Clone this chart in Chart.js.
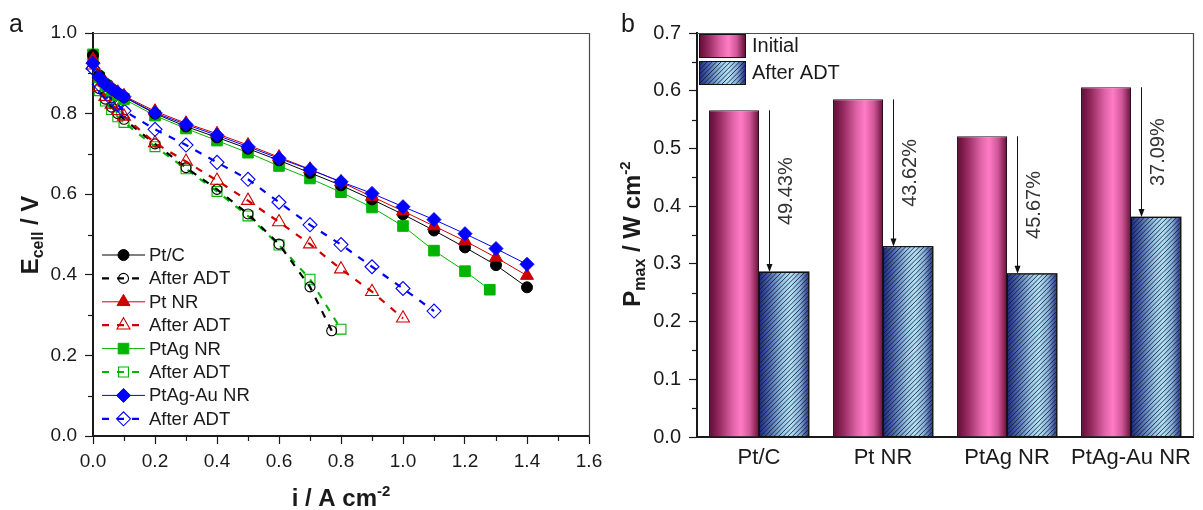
<!DOCTYPE html>
<html>
<head>
<meta charset="utf-8">
<script src="https://cdn.jsdelivr.net/npm/chart.js@4.4.1/dist/chart.umd.min.js"></script>
<style>
  html, body { margin: 0; padding: 0; background: #fff; }
  #wrap { position: relative; width: 1203px; height: 510px; overflow: hidden; }
  canvas { position: absolute; top: 0; }
  #cvA { left: 0; }
  #cvB { left: 600px; }
</style>
</head>
<body>
<div id="wrap">
  <canvas id="cvA" width="620" height="510"></canvas>
  <canvas id="cvB" width="603" height="510"></canvas>
</div>
<script>
// ---------- Panel a: polarization curves (E_cell vs current density) ----------
const currentFull = [0, 0.02, 0.04, 0.06, 0.08, 0.1, 0.2, 0.3, 0.4, 0.5, 0.6, 0.7, 0.8, 0.9, 1.0, 1.1, 1.2, 1.3, 1.4];
const ecellPtC = [0.945, 0.895, 0.875, 0.862, 0.851, 0.841, 0.800, 0.768, 0.741, 0.713, 0.684, 0.653, 0.622, 0.587, 0.550, 0.510, 0.468, 0.424, 0.369];
const ecellPtNR = [0.935, 0.893, 0.876, 0.864, 0.853, 0.844, 0.806, 0.776, 0.750, 0.722, 0.692, 0.662, 0.630, 0.594, 0.558, 0.521, 0.484, 0.443, 0.398];
const ecellPtAgAuNR = [0.925, 0.890, 0.872, 0.861, 0.851, 0.842, 0.802, 0.773, 0.746, 0.718, 0.689, 0.661, 0.631, 0.602, 0.569, 0.537, 0.502, 0.465, 0.426];
const currentPtAgNR = [0, 0.02, 0.04, 0.06, 0.08, 0.1, 0.2, 0.3, 0.4, 0.5, 0.6, 0.7, 0.8, 0.9, 1.0, 1.1, 1.2, 1.28];
const ecellPtAgNR = [0.947, 0.890, 0.870, 0.857, 0.846, 0.836, 0.795, 0.763, 0.733, 0.703, 0.670, 0.639, 0.605, 0.567, 0.521, 0.460, 0.409, 0.363];

const currentPtCAdt = [0, 0.02, 0.04, 0.06, 0.08, 0.1, 0.2, 0.3, 0.4, 0.5, 0.6, 0.7, 0.77];
const ecellPtCAdt = [0.925, 0.862, 0.836, 0.816, 0.800, 0.786, 0.725, 0.666, 0.612, 0.551, 0.476, 0.370, 0.261];
const currentPtNRAdt = [0, 0.02, 0.04, 0.06, 0.08, 0.1, 0.2, 0.3, 0.4, 0.5, 0.6, 0.7, 0.8, 0.9, 1.0];
const ecellPtNRAdt = [0.920, 0.866, 0.842, 0.823, 0.807, 0.793, 0.727, 0.681, 0.634, 0.584, 0.531, 0.476, 0.414, 0.358, 0.292];
const currentPtAgNRAdt = [0, 0.02, 0.04, 0.06, 0.08, 0.1, 0.2, 0.3, 0.4, 0.5, 0.6, 0.7, 0.8];
const ecellPtAgNRAdt = [0.930, 0.857, 0.831, 0.810, 0.792, 0.778, 0.718, 0.663, 0.607, 0.546, 0.474, 0.389, 0.265];
const currentPtAgAuNRAdt = [0, 0.02, 0.04, 0.06, 0.08, 0.1, 0.2, 0.3, 0.4, 0.5, 0.6, 0.7, 0.8, 0.9, 1.0, 1.1];
const ecellPtAgAuNRAdt = [0.912, 0.872, 0.852, 0.836, 0.822, 0.807, 0.761, 0.722, 0.679, 0.637, 0.580, 0.524, 0.475, 0.420, 0.366, 0.310];

const xTicksA = [0, 0.2, 0.4, 0.6, 0.8, 1.0, 1.2, 1.4, 1.6];
const yTicksA = [0, 0.2, 0.4, 0.6, 0.8, 1.0];
const xMinorA = [0.1, 0.3, 0.5, 0.7, 0.9, 1.1, 1.3, 1.5];
const yMinorA = [0.1, 0.3, 0.5, 0.7, 0.9];

// ---------- Panel b: maximum power density ----------
const catalysts = ['Pt/C', 'Pt NR', 'PtAg NR', 'PtAg-Au NR'];
const pmaxInitial = [0.566, 0.585, 0.521, 0.606];
const pmaxAfterADT = [0.286, 0.330, 0.283, 0.381];
const lossLabels = ['49.43%', '43.62%', '45.67%', '37.09%'];
const yTicksB = [0, 0.1, 0.2, 0.3, 0.4, 0.5, 0.6, 0.7];
const yMinorB = [0.05, 0.15, 0.25, 0.35, 0.45, 0.55, 0.65];

const FONT = '"Liberation Sans", Arial, sans-serif';
const INK = '#1a1a1a';
const CAT_PCT = 0.806;

const BLACK = '#000000', RED = '#cc0000', GREEN = '#00b400', BLUE = '#0000ff';

function series(label, xs, ys, color, style, radius, open, order) {
  return {
    label,
    data: xs.map((x, i) => ({ x, y: ys[i] })),
    showLine: true,
    borderColor: color,
    backgroundColor: open ? 'rgba(255,255,255,0)' : color,
    borderWidth: open ? 2.2 : 1,
    borderDash: open ? [7, 8] : [],
    pointStyle: style,
    pointRadius: radius,
    pointHoverRadius: radius,
    pointBorderColor: color,
    pointBackgroundColor: open ? 'rgba(255,255,255,0)' : color,
    pointBorderWidth: open ? 1.1 : 1,
    tension: 0,
    clip: false,
    order
  };
}

const dsA = [
  series('Pt/C', currentFull, ecellPtC, BLACK, 'circle', 5.5, false, 2),
  series('After ADT', currentPtCAdt, ecellPtCAdt, BLACK, 'circle', 5, true, 6),
  series('Pt NR', currentFull, ecellPtNR, RED, 'triangle', 7.5, false, 1),
  series('After ADT', currentPtNRAdt, ecellPtNRAdt, RED, 'triangle', 7.5, true, 5),
  series('PtAg NR', currentPtAgNR, ecellPtAgNR, GREEN, 'rect', 7.5, false, 3),
  series('After ADT', currentPtAgNRAdt, ecellPtAgNRAdt, GREEN, 'rect', 7, true, 7),
  series('PtAg-Au NR', currentFull, ecellPtAgAuNR, BLUE, 'rectRot', 7, false, 0),
  series('After ADT', currentPtAgAuNRAdt, ecellPtAgAuNRAdt, BLUE, 'rectRot', 7, true, 4)
];

// text with sub/superscripts; parts: {t, size, dy}
function richText(ctx, parts, x, y, rotate, bold) {
  ctx.save();
  ctx.translate(x, y);
  if (rotate) ctx.rotate(-Math.PI / 2);
  ctx.fillStyle = INK;
  ctx.textBaseline = 'alphabetic';
  ctx.textAlign = 'left';
  let total = 0;
  parts.forEach(p => { ctx.font = (bold ? 'bold ' : '') + p.size + 'px ' + FONT; total += ctx.measureText(p.t).width; });
  let cx = -total / 2;
  parts.forEach(p => {
    ctx.font = (bold ? 'bold ' : '') + p.size + 'px ' + FONT;
    ctx.fillText(p.t, cx, p.dy || 0);
    cx += ctx.measureText(p.t).width;
  });
  ctx.restore();
}

// frame (top/right edges) and minor tick marks
const framePlugin = {
  id: 'frame',
  afterDraw(chart, args, opts) {
    const { ctx, chartArea: a, scales } = chart;
    ctx.save();
    ctx.strokeStyle = '#4a4a4a';
    ctx.lineWidth = 1.2;
    ctx.beginPath();
    ctx.moveTo(a.left, a.top + 0.5);
    ctx.lineTo(a.right + 0.5, a.top + 0.5);
    ctx.lineTo(a.right + 0.5, a.bottom);
    ctx.stroke();
    ctx.strokeStyle = INK;
    ctx.lineWidth = 1.2;
    (opts.minorY || []).forEach(v => {
      const y = Math.round(scales.y.getPixelForValue(v)) + 0.5;
      ctx.beginPath(); ctx.moveTo(a.left - 5, y); ctx.lineTo(a.left, y); ctx.stroke();
    });
    (opts.minorX || []).forEach(v => {
      const x = Math.round(scales.x.getPixelForValue(v)) + 0.5;
      ctx.beginPath(); ctx.moveTo(x, a.bottom); ctx.lineTo(x, a.bottom + 5); ctx.stroke();
    });
    ctx.restore();
  }
};

const legendAPlugin = {
  id: 'legendA',
  afterDraw(chart) {
    const ctx = chart.ctx;
    const x0 = 102, x1 = 145, xm = 123.5, tx = 149;
    chart.data.datasets.forEach((ds, i) => {
      const y = 255 + i * 23.4;
      ctx.save();
      ctx.strokeStyle = ds.borderColor;
      ctx.lineWidth = ds.borderWidth;
      ctx.setLineDash(ds.borderDash);
      ctx.beginPath(); ctx.moveTo(x0, y); ctx.lineTo(x1, y); ctx.stroke();
      ctx.setLineDash([]);
      ctx.fillStyle = ds.pointBackgroundColor;
      ctx.strokeStyle = ds.pointBorderColor;
      ctx.lineWidth = ds.pointBorderWidth;
      Chart.helpers.drawPoint(ctx, { pointStyle: ds.pointStyle, radius: ds.pointRadius, rotation: 0, borderWidth: ds.pointBorderWidth }, xm, y);
      ctx.fillStyle = INK;
      ctx.font = '18.5px ' + FONT;
      ctx.textBaseline = 'middle';
      ctx.textAlign = 'left';
      ctx.fillText(ds.label, tx, y + 1);
      ctx.restore();
    });
  }
};

const titlesAPlugin = {
  id: 'titlesA',
  afterDraw(chart) {
    const ctx = chart.ctx;
    richText(ctx, [{ t: 'E', size: 24 }, { t: 'cell', size: 16, dy: 5 }, { t: ' / V', size: 24 }], 38, 235, true, true);
    richText(ctx, [{ t: 'i / A cm', size: 24 }, { t: '-2', size: 15, dy: -10 }], 341, 506, false, true);
    ctx.save();
    ctx.fillStyle = INK;
    ctx.font = '25px ' + FONT;
    ctx.textBaseline = 'alphabetic';
    ctx.fillText('a', 9, 32);
    ctx.restore();
  }
};

const tickFont = { family: FONT, size: 19 };

new Chart(document.getElementById('cvA'), {
  type: 'scatter',
  data: { datasets: dsA },
  options: {
    responsive: false,
    animation: false,
    events: [],
    layout: { padding: { left: 0, right: 31, top: 33, bottom: 0 } },
    plugins: { legend: { display: false }, tooltip: { enabled: false }, frame: { minorX: xMinorA, minorY: yMinorA } },
    scales: {
      x: {
        type: 'linear', min: 0, max: 1.6,
        afterFit(s) { s.height = 74; },
        afterBuildTicks(s) { s.ticks = xTicksA.map(v => ({ value: v })); },
        ticks: { callback: v => v.toFixed(1), font: tickFont, color: INK, padding: 6, maxRotation: 0, autoSkip: false },
        grid: { drawOnChartArea: false, drawTicks: true, tickLength: 8, tickColor: INK, tickWidth: 1.2 },
        border: { display: true, color: INK, width: 2 }
      },
      y: {
        type: 'linear', min: 0, max: 1.0,
        afterFit(s) { s.width = 93; },
        afterBuildTicks(s) { s.ticks = yTicksA.map(v => ({ value: v })); },
        ticks: { callback: v => v.toFixed(1), font: tickFont, color: INK, padding: 8 },
        grid: { drawOnChartArea: false, drawTicks: true, tickLength: 8, tickColor: INK, tickWidth: 1.2 },
        border: { display: true, color: INK, width: 2 }
      }
    }
  },
  plugins: [framePlugin, legendAPlugin, titlesAPlugin]
});

// ---------- Panel b ----------
const initialStops = [[0, '#5e0c34'], [0.2, '#94285e'], [0.48, '#e064a8'], [0.64, '#ff7cc4'], [0.82, '#cf5697'], [1, '#651039']];
const afterStops = [[0, '#1c2a80'], [0.2, '#4a66ae'], [0.48, '#98c8e8'], [0.64, '#b2e2f7'], [0.82, '#88b2dc'], [1, '#223088']];

function makeGradient(ctx, left, width, stops) {
  const g = ctx.createLinearGradient(left, 0, left + width, 0);
  stops.forEach(s => g.addColorStop(s[0], s[1]));
  return g;
}

function barFill(c, stops, side) {
  const chart = c.chart;
  const xs = chart.scales && chart.scales.x;
  if (!xs || c.type !== 'data' || !xs.width) return stops[3][1];
  const center = xs.getPixelForValue(c.dataIndex);
  const w = xs.width / catalysts.length * CAT_PCT / 2;
  const left = side < 0 ? center - w : center;
  return makeGradient(chart.ctx, left, w, stops);
}

function hatchRect(ctx, left, top, w, h) {
  ctx.save();
  ctx.beginPath();
  ctx.rect(left, top, w, h);
  ctx.clip();
  ctx.strokeStyle = 'rgba(20,20,35,0.9)';
  ctx.lineWidth = 0.9;
  ctx.beginPath();
  for (let k = left - h; k < left + w + 2; k += 4.6) {
    ctx.moveTo(k, top + h);
    ctx.lineTo(k + h, top);
  }
  ctx.stroke();
  ctx.restore();
}

const barDecorPlugin = {
  id: 'barDecor',
  afterDatasetsDraw(chart) {
    const ctx = chart.ctx;
    const ys = chart.scales.y;
    const metaAfter = chart.getDatasetMeta(1);
    metaAfter.data.forEach(el => {
      const left = el.x - el.width / 2;
      hatchRect(ctx, left, el.y, el.width, el.base - el.y);
      ctx.save();
      ctx.strokeStyle = '#111';
      ctx.lineWidth = 1;
      ctx.strokeRect(left, el.y, el.width, el.base - el.y);
      ctx.restore();
    });
    // arrows showing the loss after ADT
    const xs = chart.scales.x;
    pmaxInitial.forEach((v0, i) => {
      const v1 = pmaxAfterADT[i];
      const ax = Math.round(xs.getPixelForValue(i)) + 10.5;
      const y0 = ys.getPixelForValue(v0);
      const y1 = ys.getPixelForValue(v1);
      ctx.save();
      ctx.strokeStyle = '#111';
      ctx.fillStyle = '#111';
      ctx.lineWidth = 1;
      ctx.beginPath(); ctx.moveTo(ax, y0); ctx.lineTo(ax, y1 - 6); ctx.stroke();
      ctx.beginPath(); ctx.moveTo(ax - 3, y1 - 8); ctx.lineTo(ax + 3, y1 - 8); ctx.lineTo(ax, y1); ctx.closePath(); ctx.fill();
      ctx.translate(ax + 17, (y0 + y1) / 2);
      ctx.rotate(-Math.PI / 2);
      ctx.font = '20px ' + FONT;
      ctx.fillStyle = '#333';
      ctx.textAlign = 'center';
      ctx.textBaseline = 'middle';
      ctx.fillText(lossLabels[i], 0, 0);
      ctx.restore();
    });
  }
};

const legendBPlugin = {
  id: 'legendB',
  afterDraw(chart) {
    const ctx = chart.ctx;
    const bx = 99, bw = 46, bh = 23;
    const rows = [{ y: 34, label: 'Initial', stops: initialStops, hatch: false }, { y: 61, label: 'After ADT', stops: afterStops, hatch: true }];
    rows.forEach(r => {
      ctx.save();
      ctx.fillStyle = makeGradient(ctx, bx, bw, r.stops);
      ctx.fillRect(bx, r.y, bw, bh);
      if (r.hatch) hatchRect(ctx, bx, r.y, bw, bh);
      ctx.strokeStyle = '#111';
      ctx.lineWidth = 1;
      ctx.strokeRect(bx + 0.5, r.y + 0.5, bw, bh);
      ctx.fillStyle = INK;
      ctx.font = '20px ' + FONT;
      ctx.textBaseline = 'middle';
      ctx.textAlign = 'left';
      ctx.fillText(r.label, 152, r.y + bh / 2 + 1);
      ctx.restore();
    });
  }
};

const titlesBPlugin = {
  id: 'titlesB',
  afterDraw(chart) {
    const ctx = chart.ctx;
    richText(ctx, [{ t: 'P', size: 24 }, { t: 'max', size: 16, dy: 5 }, { t: ' / W cm', size: 24 }, { t: '-2', size: 15, dy: -10 }], 40, 234, true, true);
    ctx.save();
    ctx.fillStyle = INK;
    ctx.font = '25px ' + FONT;
    ctx.textBaseline = 'alphabetic';
    ctx.fillText('b', 21, 32);
    ctx.restore();
  }
};

new Chart(document.getElementById('cvB'), {
  type: 'bar',
  data: {
    labels: catalysts,
    datasets: [
      { label: 'Initial', data: pmaxInitial, backgroundColor: c => barFill(c, initialStops, -1), borderColor: '#2a1020', borderWidth: 1, categoryPercentage: CAT_PCT, barPercentage: 1 },
      { label: 'After ADT', data: pmaxAfterADT, backgroundColor: c => barFill(c, afterStops, 1), borderColor: '#111', borderWidth: 1, categoryPercentage: CAT_PCT, barPercentage: 1 }
    ]
  },
  options: {
    responsive: false,
    animation: false,
    events: [],
    layout: { padding: { left: 0, right: 10, top: 33, bottom: 0 } },
    plugins: { legend: { display: false }, tooltip: { enabled: false }, frame: { minorY: yMinorB } },
    scales: {
      x: {
        afterFit(s) { s.height = 73; },
        ticks: { font: { family: FONT, size: 22 }, color: INK, padding: 8, maxRotation: 0, autoSkip: false },
        grid: { display: false, drawTicks: false },
        border: { display: true, color: INK, width: 2 }
      },
      y: {
        min: 0, max: 0.7,
        afterFit(s) { s.width = 97; },
        afterBuildTicks(s) { s.ticks = yTicksB.map(v => ({ value: v })); },
        ticks: { callback: v => v.toFixed(1), font: { family: FONT, size: 20 }, color: INK, padding: 8 },
        grid: { drawOnChartArea: false, drawTicks: true, tickLength: 8, tickColor: INK, tickWidth: 1.2 },
        border: { display: true, color: INK, width: 2 }
      }
    }
  },
  plugins: [framePlugin, barDecorPlugin, legendBPlugin, titlesBPlugin]
});
</script>
</body>
</html>
